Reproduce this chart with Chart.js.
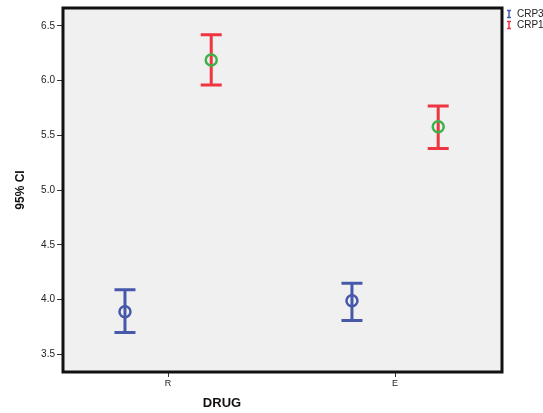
<!DOCTYPE html>
<html>
<head>
<meta charset="utf-8">
<script src="https://cdn.jsdelivr.net/npm/chart.js@4"></script>
<style>
  html, body { margin: 0; padding: 0; background: #fff; }
  #wrap { width: 543px; height: 413px; }
</style>
</head>
<body>
<div id="wrap"><canvas id="ciChart" width="543" height="413"></canvas></div>
<script>
// 95% CI error bar chart, CRP3 vs CRP1 by drug
const drugs = ['R', 'E']
const drugPos = [1, 2]

const crp3Mean = [3.89, 3.99]
const crp3Low = [3.70, 3.81]
const crp3High = [4.09, 4.15]

const crp1Mean = [6.19, 5.58]
const crp1Low = [5.96, 5.38]
const crp1High = [6.42, 5.77]

const yTicks = [3.5, 4.0, 4.5, 5.0, 5.5, 6.0, 6.5]

const BLUE = '#4658aa'
const RED = '#ee3540'
const GREEN = '#3cb24a'

// clustered: each series sits a bit left / right of its category
const series = [
  { label: 'CRP3', mean: crp3Mean, low: crp3Low, high: crp3High, bar: BLUE, dot: BLUE, shift: -0.19 },
  { label: 'CRP1', mean: crp1Mean, low: crp1Low, high: crp1High, bar: RED, dot: GREEN, shift: 0.19 }
]

const errorBars = {
  id: 'errorBars',
  beforeDraw(chart) {
    const { ctx, chartArea: a } = chart
    ctx.save()
    ctx.fillStyle = '#f0f0f0'
    ctx.fillRect(a.left, a.top, a.right - a.left, a.bottom - a.top)
    ctx.restore()
  },
  beforeDatasetsDraw(chart) {
    const { ctx, scales: { x, y } } = chart
    ctx.save()
    ctx.lineWidth = 3
    series.forEach(s => {
      ctx.strokeStyle = s.bar
      drugPos.forEach((p, i) => {
        const px = x.getPixelForValue(p + s.shift)
        const top = y.getPixelForValue(s.high[i])
        const bot = y.getPixelForValue(s.low[i])
        ctx.beginPath()
        ctx.moveTo(px, top); ctx.lineTo(px, bot)
        ctx.moveTo(px - 10.5, top); ctx.lineTo(px + 10.5, top)
        ctx.moveTo(px - 10.5, bot); ctx.lineTo(px + 10.5, bot)
        ctx.stroke()
      })
    })
    ctx.restore()
  },
  afterDraw(chart) {
    const { ctx, chartArea: a } = chart
    ctx.save()
    ctx.strokeStyle = '#111'
    ctx.lineWidth = 3
    ctx.strokeRect(a.left, a.top, a.right - a.left, a.bottom - a.top)

    // legend
    ctx.font = '10px "Liberation Sans", Arial, sans-serif'
    ctx.textBaseline = 'middle'
    series.forEach((s, i) => {
      const cy = 14 + i * 11
      const cx = a.right + 7
      ctx.strokeStyle = s.bar
      ctx.lineWidth = 1.5
      ctx.beginPath()
      ctx.moveTo(cx, cy - 3.5); ctx.lineTo(cx, cy + 3.5)
      ctx.moveTo(cx - 2, cy - 3.5); ctx.lineTo(cx + 2, cy - 3.5)
      ctx.moveTo(cx - 2, cy + 3.5); ctx.lineTo(cx + 2, cy + 3.5)
      ctx.stroke()
      ctx.fillStyle = '#222'
      ctx.textAlign = 'left'
      ctx.fillText(s.label, cx + 8, cy)
    })

    // axis titles
    ctx.fillStyle = '#111'
    ctx.font = 'bold 13px "Liberation Sans", Arial, sans-serif'
    ctx.textAlign = 'center'
    ctx.fillText('DRUG', 222, 403)
    ctx.translate(21, 190)
    ctx.rotate(-Math.PI / 2)
    ctx.font = 'bold 12px "Liberation Sans", Arial, sans-serif'
    ctx.fillText('95% CI', 0, 0)
    ctx.restore()
  }
}

// eslint-disable-next-line no-undef
new Chart(document.getElementById('ciChart'), {
  type: 'scatter',
  data: {
    datasets: series.map(s => ({
      label: s.label,
      data: drugPos.map((p, i) => ({ x: p + s.shift, y: s.mean[i] })),
      pointStyle: 'circle',
      pointRadius: 5.5,
      pointHoverRadius: 5.5,
      pointBorderWidth: 2.5,
      pointBackgroundColor: 'rgba(0,0,0,0)',
      pointBorderColor: s.dot
    }))
  },
  options: {
    responsive: false,
    animation: false,
    layout: { padding: { top: 8, right: 41, left: 0, bottom: 0 } },
    plugins: { legend: { display: false }, tooltip: { enabled: false } },
    scales: {
      x: {
        type: 'linear',
        min: 0.537,
        max: 2.471,
        afterFit(scale) { scale.height = 41 },
        afterBuildTicks(scale) { scale.ticks = drugPos.map(v => ({ value: v })) },
        ticks: {
          callback: v => drugs[drugPos.indexOf(v)] || '',
          color: '#222',
          font: { size: 9, family: '"Liberation Sans", Arial, sans-serif' },
          padding: 1,
          maxRotation: 0
        },
        grid: { display: true, drawOnChartArea: false, drawTicks: true, tickLength: 5, color: '#333', lineWidth: 1 },
        border: { display: false }
      },
      y: {
        min: 3.34,
        max: 6.664,
        afterFit(scale) { scale.width = 63 },
        afterBuildTicks(scale) { scale.ticks = yTicks.map(v => ({ value: v })) },
        ticks: {
          callback: v => v.toFixed(1),
          color: '#222',
          font: { size: 10, family: '"Liberation Sans", Arial, sans-serif' },
          padding: 2
        },
        grid: { display: true, drawOnChartArea: false, drawTicks: true, tickLength: 6, color: '#333', lineWidth: 1 },
        border: { display: false }
      }
    }
  },
  plugins: [errorBars]
})
</script>
</body>
</html>
